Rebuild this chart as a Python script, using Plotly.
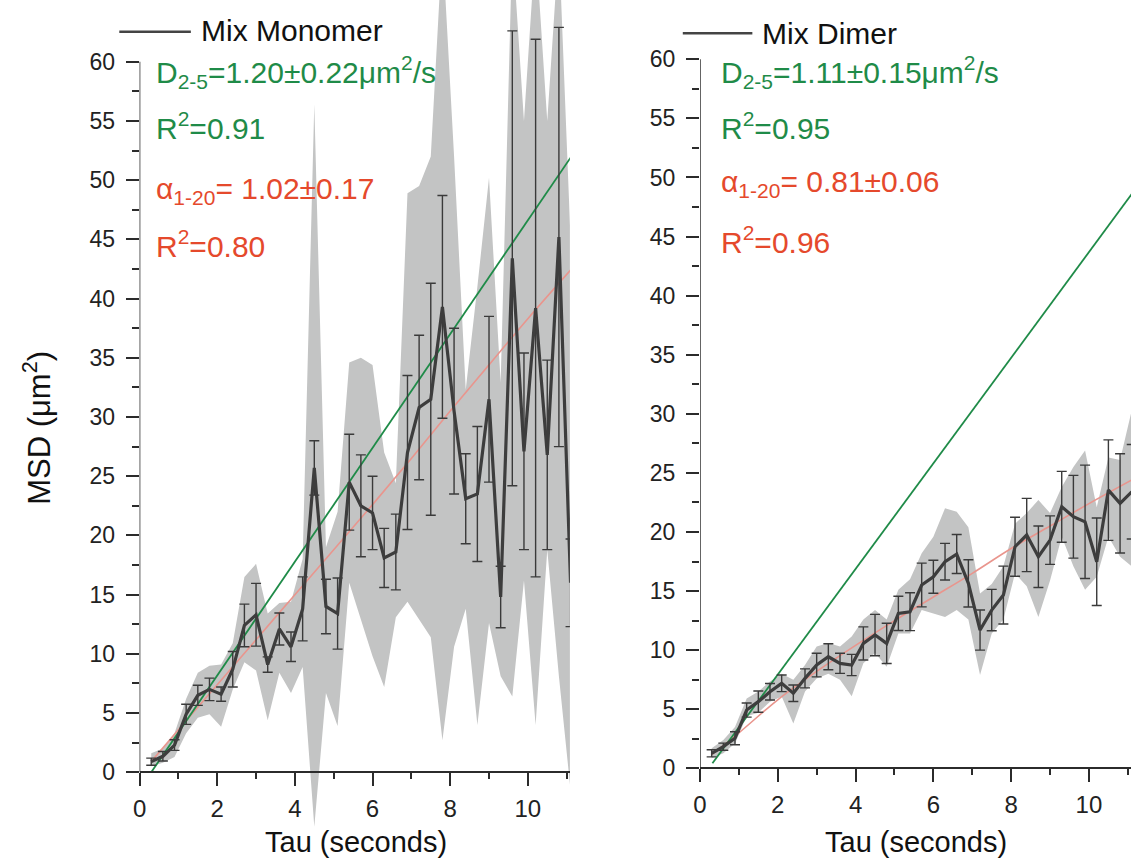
import plotly.graph_objects as go

# ---------------- data ----------------
tau = [0.3, 0.6, 0.9, 1.2, 1.5, 1.8, 2.1, 2.4, 2.7, 3.0, 3.3, 3.6, 3.9, 4.2, 4.5, 4.8, 5.1, 5.4, 5.7,
       6.0, 6.3, 6.6, 6.9, 7.2, 7.5, 7.8, 8.1, 8.4, 8.7, 9.0, 9.3, 9.6, 9.9, 10.2, 10.5, 10.8, 11.1]

mono_mean = [0.9, 1.35, 2.3, 4.9, 6.5, 7.0, 6.6, 8.7, 12.4, 13.3, 9.1, 12.1, 10.6, 13.8, 25.7, 14.0, 13.4,
             24.5, 22.5, 21.9, 18.1, 18.6, 27.0, 30.8, 31.5, 39.3, 30.5, 23.1, 23.5, 31.5, 14.8, 43.4, 27.1,
             39.2, 26.8, 45.2, 16.0]
mono_err = [0.3, 0.4, 0.45, 0.85, 0.85, 0.95, 0.6, 1.5, 1.8, 2.65, 0.65, 1.35, 1.25, 2.7, 2.3, 2.3, 3.0,
            4.05, 4.3, 3.1, 2.5, 3.2, 6.5, 6.1, 9.8, 9.4, 7.0, 3.8, 5.7, 7.0, 2.6, 19.2, 8.3, 22.7, 8.0,
            17.7, 3.7]
mono_band_hi = [1.6, 2.0, 3.3, 6.2, 8.4, 9.0, 9.1, 10.9, 16.5, 17.6, 13.4, 14.3, 14.4, 18.0, 56.4, 19.0,
                22.0, 34.6, 35.0, 34.4, 27.0, 24.4, 48.9, 49.5, 52.0, 70.0, 52.0, 32.3, 41.0, 50.2, 32.9,
                70.0, 55.0, 70.0, 55.0, 70.0, 45.0]
mono_band_lo = [0.5, 0.8, 1.3, 3.3, 4.6, 4.9, 3.85, 7.0, 9.3, 8.6, 4.4, 8.4, 6.7, 8.9, -4.6, 6.7, 3.9,
                16.0, 12.9, 9.8, 7.2, 13.1, 14.4, 12.9, 11.4, 2.7, 10.6, 13.8, 4.0, 12.6, 8.1, 6.4, 16.2,
                4.0, 18.8, 8.1, -1.5]

dimer_mean = [1.27, 1.83, 2.54, 4.93, 5.64, 6.48, 7.19, 6.35, 7.61, 8.74, 9.44, 8.88, 8.74, 10.57, 11.28,
              10.57, 13.11, 13.25, 15.51, 16.21, 17.48, 18.13, 15.65, 11.7, 13.39, 14.66, 18.75, 19.74,
              17.9, 19.31, 22.13, 21.29, 20.86, 17.48, 23.54, 22.42, 23.4]
dimer_err = [0.3, 0.3, 0.55, 0.6, 0.9, 0.7, 0.7, 0.7, 0.8, 1.0, 1.1, 0.85, 0.9, 1.4, 1.75, 1.7, 1.45, 1.6,
             1.85, 1.4, 1.55, 1.65, 2.0, 1.7, 1.75, 2.45, 2.5, 3.1, 2.6, 2.05, 3.0, 3.5, 4.8, 3.7, 4.25,
             4.2, 4.0]
dimer_band_hi = [1.7, 2.4, 3.5, 5.9, 6.5, 7.34, 8.0, 7.5, 8.74, 10.3, 10.6, 10.3, 11.15, 12.6, 13.4, 12.6,
                 15.1, 16.0, 18.2, 19.6, 22.0, 21.7, 20.4, 14.8, 15.6, 17.1, 20.7, 21.6, 22.7, 21.6, 23.8,
                 25.5, 26.9, 22.1, 26.3, 26.1, 30.3]
dimer_band_lo = [0.85, 1.28, 2.1, 4.4, 4.7, 5.64, 6.07, 3.8, 6.5, 7.6, 8.0, 7.5, 6.1, 8.9, 9.75, 8.6, 11.4,
                 11.4, 13.4, 13.1, 12.8, 13.4, 12.6, 7.9, 11.4, 12.6, 16.5, 15.4, 12.8, 15.9, 19.6, 17.1,
                 15.1, 16.2, 19.6, 17.9, 17.1]

# fitted lines
mono_lin_t = [0.3, 11.1]
mono_lin_y = [0.0, 51.9]
mono_pow_t = [0.3, 1, 2, 3, 4, 5, 6, 7, 8, 9, 10, 11.1]
mono_pow_y = [0.9, 3.6, 7.4, 11.2, 15.0, 18.8, 22.6, 26.5, 30.5, 34.4, 38.3, 42.4]

dimer_lin_t = [0.32, 11.1]
dimer_lin_y = [0.42, 48.6]
dimer_pow_t = [0.3, 1, 2, 3, 4, 5, 6, 7, 8, 9, 10, 11.1]
dimer_pow_y = [1.15, 3.0, 5.8, 8.2, 10.4, 12.5, 14.5, 16.5, 18.6, 20.5, 22.4, 24.4]

y_ticks = [0, 5, 10, 15, 20, 25, 30, 35, 40, 45, 50, 55, 60]
y_minor = [2.5, 7.5, 12.5, 17.5, 22.5, 27.5, 32.5, 37.5, 42.5, 47.5, 52.5, 57.5]
x_ticks = [0, 2, 4, 6, 8, 10]
x_minor = [1, 3, 5, 7, 9, 11]

panel_names = ["Mix Monomer", "Mix Dimer"]
fit_text = [
    ["D<sub>2-5</sub>=1.20±0.22μm<sup>2</sup>/s", "R<sup>2</sup>=0.91",
     "α<sub>1-20</sub>= 1.02±0.17", "R<sup>2</sup>=0.80"],
    ["D<sub>2-5</sub>=1.11±0.15μm<sup>2</sup>/s", "R<sup>2</sup>=0.95",
     "α<sub>1-20</sub>= 0.81±0.06", "R<sup>2</sup>=0.96"],
]

# ---------------- style ----------------
W, H = 1131, 863
FONT = "Liberation Sans, Arial, Helvetica, sans-serif"
BAND = "#c3c4c4"
MEAN = "#3d3d3d"
ERR = "#3a3a3a"
GREEN = "#1f8b48"
REDLINE = "#e9958d"
REDTXT = "#e5492c"
AX = "#2b2b2b"


def px(X):
    return X / W


def py(Y):
    return 1 - Y / H


fig = go.Figure()

panels = [
    dict(x="x", y="y", mean=mono_mean, err=mono_err, hi=mono_band_hi, lo=mono_band_lo,
         lt=mono_lin_t, ly=mono_lin_y, pt=mono_pow_t, pyv=mono_pow_y),
    dict(x="x2", y="y2", mean=dimer_mean, err=dimer_err, hi=dimer_band_hi, lo=dimer_band_lo,
         lt=dimer_lin_t, ly=dimer_lin_y, pt=dimer_pow_t, pyv=dimer_pow_y),
]

for p in panels:
    fig.add_trace(go.Scatter(x=tau + tau[::-1], y=p["hi"] + p["lo"][::-1], fill="toself",
                             fillcolor=BAND, line=dict(width=0), mode="lines",
                             xaxis=p["x"], yaxis=p["y"], hoverinfo="skip", showlegend=False))
    fig.add_trace(go.Scatter(x=p["pt"], y=p["pyv"], mode="lines", line=dict(color=REDLINE, width=1.6),
                             line_shape="spline", xaxis=p["x"], yaxis=p["y"], showlegend=False))
    fig.add_trace(go.Scatter(x=p["lt"], y=p["ly"], mode="lines", line=dict(color=GREEN, width=1.8),
                             xaxis=p["x"], yaxis=p["y"], showlegend=False))
    fig.add_trace(go.Scatter(x=tau, y=p["mean"], mode="markers",
                             marker=dict(size=1, color="rgba(0,0,0,0)"),
                             error_y=dict(type="data", array=p["err"], color=ERR, thickness=1.4, width=5),
                             xaxis=p["x"], yaxis=p["y"], showlegend=False))
    fig.add_trace(go.Scatter(x=tau, y=p["mean"], mode="lines", line=dict(color=MEAN, width=3.2),
                             xaxis=p["x"], yaxis=p["y"], showlegend=False))

common_x = dict(tickvals=x_ticks, ticks="outside", ticklen=13, tickwidth=1.5, tickcolor=AX,
                showline=True, linecolor=AX, linewidth=1.5, showgrid=False, zeroline=False,
                tickfont=dict(family=FONT, size=24, color="#222"), anchor="free", ticklabelstandoff=2,
                minor=dict(tickvals=x_minor, ticks="outside", ticklen=6, tickwidth=1.5, tickcolor=AX))
common_y = dict(tickvals=y_ticks, ticks="outside", ticklen=13, tickwidth=1.5, tickcolor=AX,
                showline=False, showgrid=False, zeroline=False, ticklabelstandoff=6,
                tickfont=dict(family=FONT, size=23, color="#222"),
                minor=dict(tickvals=y_minor, ticks="outside", ticklen=7, tickwidth=1.5, tickcolor=AX))

fig.update_layout(
    width=W, height=H, margin=dict(l=0, r=0, t=0, b=0),
    paper_bgcolor="white", plot_bgcolor="white", showlegend=False,
    xaxis=dict(domain=[px(133.4), px(566.4)], range=[0, 11.083], position=py(772.3), **common_x),
    yaxis=dict(domain=[0, 1], range=[-7.659, 65.211], anchor="x", **common_y),
    xaxis2=dict(domain=[px(697.3), 1.0], range=[0, 11.081], position=py(768.3), **common_x),
    yaxis2=dict(domain=[0, 1], range=[-8.014, 65.017], anchor="x2", **common_y),
)

# y axis lines only from 0 to 60
for xr, yr in [("x", "y"), ("x2", "y2")]:
    fig.add_shape(type="line", xref=xr, yref=yr, x0=0, x1=0, y0=0, y1=60,
                  line=dict(color=AX, width=1.5))

# legends
legend_pos = [(113, 185, 31.7, 193, 30), (680, 750, 33.3, 758, 33)]
for (x0, x1, yl, xt, yt), name in zip(legend_pos, panel_names):
    fig.add_shape(type="line", xref="paper", yref="paper", x0=px(x0), x1=px(x1), y0=py(yl), y1=py(yl),
                  line=dict(color="#444", width=2.5))
    fig.add_annotation(text=name, xref="paper", yref="paper", x=px(xt), y=py(yt), xanchor="left",
                       yanchor="middle", showarrow=False, font=dict(family=FONT, size=30, color="#111"))

# fit texts
text_x = [148, 716.7]
text_y = [[72, 126, 190, 244], [72, 126, 183, 240]]
colors = [GREEN, GREEN, REDTXT, REDTXT]
for i in range(2):
    for j in range(4):
        fig.add_annotation(text=fit_text[i][j], xref="paper", yref="paper", x=px(text_x[i]),
                           y=py(text_y[i][j]), xanchor="left", yanchor="middle", showarrow=False,
                           font=dict(family=FONT, size=30, color=colors[j]))

# axis titles
for xc in [351.5, 914.5]:
    fig.add_annotation(text="Tau (seconds)", xref="paper", yref="paper", x=px(xc), y=py(842),
                       xanchor="center", yanchor="middle", showarrow=False,
                       font=dict(family=FONT, size=29, color="#111"))
fig.add_annotation(text="MSD (μm<sup>2</sup>)", xref="paper", yref="paper", x=px(30), y=py(428),
                   xanchor="center", yanchor="middle", textangle=-90, showarrow=False,
                   font=dict(family=FONT, size=31, color="#111"))

fig.write_html("out.html", post_script="document.body.style.margin='0';",
               config={"displayModeBar": False})
